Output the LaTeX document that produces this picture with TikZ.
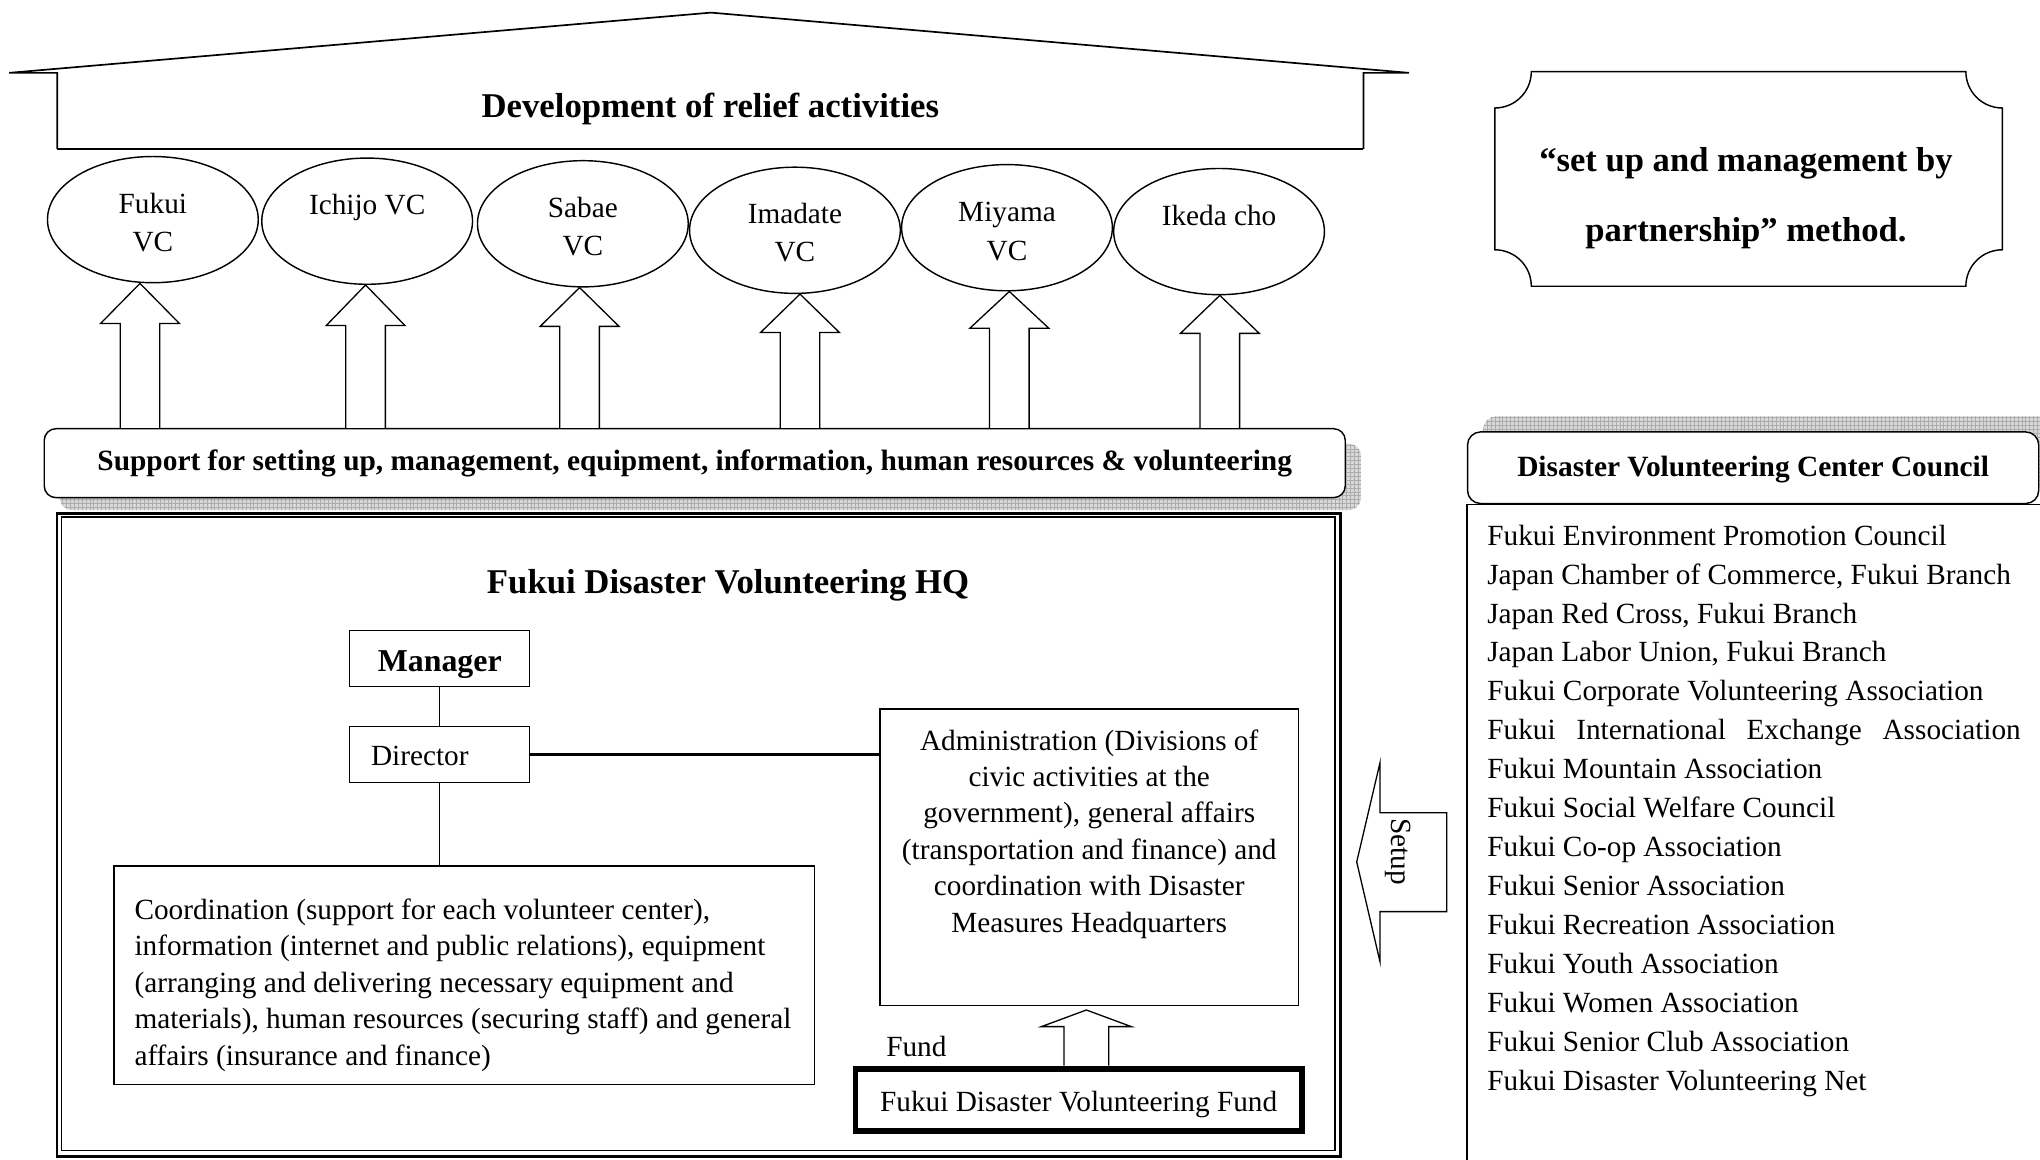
\documentclass[tikz,border=0pt]{standalone}
\usepackage{fontspec}
\setmainfont{Liberation Serif}
\usetikzlibrary{shapes.geometric,patterns,calc}
\newcommand{\fsreg}{\fontsize{22.5}{28}\selectfont}
\newcommand{\fsbold}{\fontsize{22.6}{28}\selectfont\bfseries}
\newcommand{\fstitle}{\fontsize{26.7}{32}\selectfont\bfseries}
\newcommand{\fsplaque}{\fontsize{26.6}{53.8}\selectfont\bfseries}
\newcommand{\fsvc}{\fontsize{22.5}{29.5}\selectfont}
% hollow upward block arrow: tip, bottom, head length, shaft half width, head half width
\newcommand{\blockup}[5]{\draw[blockarrow] let \p1=(#1), \p2=(#2) in
  (\x1-#4,\y2) -- (\x1-#4,\y1-#3) -- (\x1-#5,\y1-#3) -- (\x1,\y1) --
  (\x1+#5,\y1-#3) -- (\x1+#4,\y1-#3) -- (\x1+#4,\y2);}
\begin{document}
\begin{tikzpicture}[x=1pt,y=-1pt,line join=miter,
  box/.style={draw,rectangle,line width=1pt,inner sep=0pt},
  vc/.style={draw,ellipse,line width=1.1pt,minimum width=162pt,minimum height=97pt,inner sep=0pt},
  lbl/.style={anchor=base,inner sep=0pt,font=\fsreg},
  vclbl/.style={anchor=base,inner sep=0pt,font=\fsvc,align=center},
  blockarrow/.style={draw,fill=white,line width=1pt},
  shadowfill/.style={preaction={fill=gray!30},pattern=grid,pattern color=gray!65}]
\useasboundingbox (0,0) rectangle (1568,891);
\clip (0,0) rectangle (1568,891);

% ---- house ----
\draw[line width=1.3pt] (44,114.5) -- (44,56) -- (7,56) -- (546.5,9.7) -- (1083,56) -- (1048,56) -- (1048,114.5);
\draw[line width=2pt] (44,114.5) -- (1048,114.5);
\node[font=\fstitle,anchor=base,inner sep=0pt] (dev) at (546,90.2) {Development of relief activities};

% ---- support bar ----
\path[shadowfill,rounded corners=9pt] (46,341) rectangle (1046,392);
\node[draw,fill=white,rounded corners=9pt,line width=1.1pt,minimum width=1000pt,minimum height=53pt,
  inner sep=0pt,font=\fsbold,text height=16pt,text depth=5pt] (bar) at (534,356)
  {Support for setting up, management, equipment, information, human resources \& volunteering};

% ---- VC ellipses ----
\node[vc] (e1) at (117.5,168.8) {};
\node[vc] (e2) at (282.2,170) {};
\node[vc] (e3) at (448,172) {};
\node[vc] (e4) at (611,177) {};
\node[vc] (e5) at (774,175) {};
\node[vc] (e6) at (937,178) {};
\node[vclbl] (t1) at (117.5,193.5) {Fukui\\VC};
\node[vclbl] (t2) at (282.2,164.5) {Ichijo VC};
\node[vclbl] (t3) at (448,196.5) {Sabae\\VC};
\node[vclbl] (t4) at (611,201.2) {Imadate\\VC};
\node[vclbl] (t5) at (774,199.9) {Miyama\\VC};
\node[vclbl] (t6) at (937,173) {Ikeda cho};

\blockup{[xshift=-9.9pt]e1.south}{bar.north}{30.8pt}{15.2pt}{30.3pt}
\blockup{[xshift=-1.2pt]e2.south}{bar.north}{31.2pt}{15.2pt}{30.3pt}
\blockup{[xshift=-2.5pt]e3.south}{bar.north}{29.8pt}{15.2pt}{30.3pt}
\blockup{[xshift=3.9pt]e4.south}{bar.north}{29.5pt}{15.2pt}{30.3pt}
\blockup{[xshift=1.8pt]e5.south}{bar.north}{28.2pt}{15.2pt}{30.3pt}
\blockup{[xshift=0.6pt]e6.south}{bar.north}{29.2pt}{15.2pt}{30.3pt}

% ---- HQ ----
\node[draw,line width=2pt,minimum width=986.7pt,minimum height=494.4pt,inner sep=0pt] (hq) at (537.05,641.8) {};
\draw[line width=1pt] ($(hq.north west)+(4.5,3.8)$) rectangle ($(hq.south east)+(-5.2,-5.6)$);
\node[font=\fstitle,anchor=base,inner sep=0pt] (hqtitle) at (559.6,456) {Fukui Disaster Volunteering HQ};

\node[box,minimum width=138.4pt,minimum height=43pt,font=\fontsize{24.5}{28}\selectfont\bfseries,
  text height=24pt,text depth=4pt] (mgr) at (338,506.3) {Manager};
\node[box,minimum width=138.4pt,minimum height=43pt] (dir) at (338,580) {};
\node[lbl,anchor=base west] (dirlbl) at (285,588.5) {Director};

\node[box,minimum width=321.6pt,minimum height=228pt] (admin) at (837.2,659) {};
\node[lbl,align=center] (admintxt) at (837.2,716.5) {Administration (Divisions of\\civic activities at the\\government), general affairs\\(transportation and finance) and\\coordination with Disaster\\Measures Headquarters};

\node[box,minimum width=538.4pt,minimum height=167.8pt] (coord) at (356.8,749.5) {};
\node[lbl,anchor=base west,align=left] (coordtxt) at (103.2,818.6) {Coordination (support for each volunteer center),\\information (internet and public relations), equipment\\(arranging and delivering necessary equipment and\\materials), human resources (securing staff) and general\\affairs (insurance and finance)};

\draw[line width=1pt] (mgr.south) -- (dir.north);
\draw[line width=1pt] (dir.south) -- (dir.south |- coord.north);
\draw[line width=2pt] (dir.east) -- (dir.east -| admin.west);

\node[draw,line width=4.5pt,minimum width=343.2pt,minimum height=47.6pt,inner sep=0pt,font=\fsreg,
  text height=22.6pt,text depth=4pt] (fund) at (829.1,845.2) {Fukui Disaster Volunteering Fund};
\node[lbl,anchor=base west] (fundlbl) at (681,812.2) {Fund};
\blockup{[xshift=-2.2pt,yshift=-2.8pt]admin.south}{fund.north}{12.8pt}{17.15pt}{34.6pt}

% ---- setup arrow ----
\coordinate (setuptip) at (1042.8,662.5);
\draw[blockarrow] (setuptip) -- ++(17.9,-76.3) -- ++(0,38.5) -- ++(51.3,0) -- ++(0,76) -- ++(-51.3,0) -- ++(0,38.5) -- cycle;
\node[rotate=-90,font=\fsreg,inner sep=0pt] (setuplbl) at (1074.8,654.6) {Setup};

% ---- plaque ----
\draw[line width=1.1pt] (1177,55) -- (1511,55) arc[start angle=180,end angle=270,radius=28pt]
  -- (1539,192) arc[start angle=90,end angle=180,radius=28pt]
  -- (1177,220) arc[start angle=0,end angle=90,radius=28pt]
  -- (1149,83) arc[start angle=-90,end angle=0,radius=28pt] -- cycle;
\node[anchor=base,align=center,inner sep=0pt,font=\fsplaque] (plaque) at (1342,185.8) {“set up and management by\\partnership” method.};

% ---- council ----
\path[shadowfill,rounded corners=10pt] (1140,320) rectangle (1600,375);
\node[draw,fill=white,rounded corners=10pt,line width=1.1pt,minimum width=439pt,minimum height=55pt,
  inner sep=0pt,font=\fsbold,text height=19pt,text depth=5pt] (council) at (1347.5,359.5) {Disaster Volunteering Center Council};
\draw[line width=1.1pt] (council.south west) rectangle (1620,920);
\foreach \t [count=\i] in {{Fukui Environment Promotion Council},{Japan Chamber of Commerce, Fukui Branch},
  {Japan Red Cross, Fukui Branch},{Japan Labor Union, Fukui Branch},{Fukui Corporate Volunteering Association},
  {\makebox[410pt][s]{Fukui International Exchange Association}},{Fukui Mountain Association},
  {Fukui Social Welfare Council},{Fukui Co-op Association},{Fukui Senior Association},
  {Fukui Recreation Association},{Fukui Youth Association},{Fukui Women Association},
  {Fukui Senior Club Association},{Fukui Disaster Volunteering Net}}
  \node[lbl,anchor=base west] (m\i) at (1143,{419+29.93*(\i-1)}) {\t};
\end{tikzpicture}
\end{document}
